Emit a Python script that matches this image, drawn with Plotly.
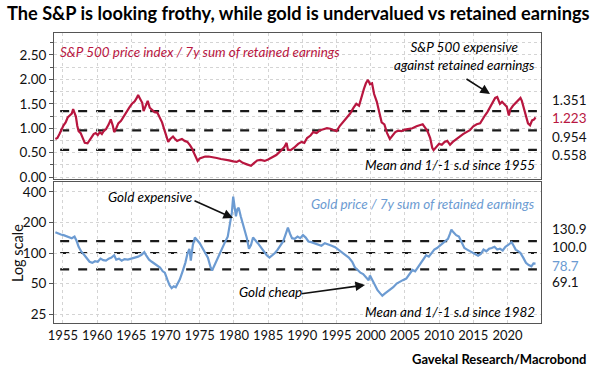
import plotly.graph_objects as go

# ---------------- data ----------------
spx_years = [1953.9, 1954.2, 1954.5, 1954.8, 1955.1, 1955.4, 1955.7, 1956.0, 1956.3, 1956.5, 1956.7, 1956.9,
             1957.1, 1957.3, 1957.6, 1957.9, 1958.2, 1958.6, 1958.9, 1959.2, 1959.5, 1959.8, 1960.1, 1960.4,
             1960.7, 1961.0, 1961.3, 1961.7, 1962.0, 1962.3, 1962.5, 1962.8, 1963.1, 1963.5, 1963.9, 1964.3,
             1964.7, 1965.1, 1965.5, 1965.8, 1966.0, 1966.3, 1966.6, 1966.8, 1967.1, 1967.4, 1967.7, 1968.0,
             1968.4, 1968.8, 1969.1, 1969.5, 1969.8, 1970.1, 1970.4, 1970.7, 1971.1, 1971.4, 1971.7, 1972.0,
             1972.4, 1972.8, 1973.2, 1973.6, 1973.9, 1974.3, 1974.7, 1975.0, 1975.4, 1975.8, 1976.3, 1976.9,
             1977.5, 1978.1, 1978.7, 1979.3, 1979.9, 1980.4, 1980.8, 1981.3, 1981.9, 1982.5, 1982.9, 1983.4,
             1983.9, 1984.5, 1985.0, 1985.6, 1986.2, 1986.8, 1987.4, 1987.7, 1987.9, 1988.3, 1988.8, 1989.4,
             1989.9, 1990.3, 1990.7, 1991.2, 1991.6, 1992.1, 1992.6, 1993.1, 1993.6, 1994.1, 1994.6, 1995.0,
             1995.5, 1996.0, 1996.5, 1997.0, 1997.5, 1997.9, 1998.3, 1998.6, 1999.0, 1999.3, 1999.6, 1999.9,
             2000.2, 2000.5, 2000.9, 2001.3, 2001.6, 2002.0, 2002.4, 2002.8, 2003.2, 2003.6, 2004.0, 2004.5,
             2005.0, 2005.6, 2006.1, 2006.7, 2007.2, 2007.6, 2007.9, 2008.3, 2008.7, 2009.0, 2009.2, 2009.6,
             2010.0, 2010.4, 2010.8, 2011.2, 2011.6, 2012.0, 2012.5, 2013.0, 2013.5, 2014.0, 2014.5, 2015.0,
             2015.5, 2016.0, 2016.3, 2016.7, 2017.1, 2017.5, 2017.9, 2018.2, 2018.5, 2018.9, 2019.2, 2019.6,
             2019.9, 2020.2, 2020.4, 2020.8, 2021.2, 2021.6, 2021.9, 2022.1, 2022.4, 2022.7, 2023.0, 2023.3,
             2023.6, 2023.9, 2024.1]
spx_values = [0.78, 0.80, 0.88, 0.98, 1.06, 1.12, 1.22, 1.26, 1.30, 1.39, 1.30, 1.24,
              1.05, 0.94, 0.90, 0.78, 0.70, 0.69, 0.75, 0.82, 0.88, 0.90, 0.86, 0.92,
              0.88, 0.95, 0.98, 1.08, 1.18, 1.05, 0.92, 1.00, 1.10, 1.15, 1.25, 1.33,
              1.42, 1.50, 1.55, 1.62, 1.68, 1.60, 1.52, 1.35, 1.45, 1.56, 1.42, 1.38,
              1.33, 1.32, 1.22, 1.12, 0.98, 0.85, 0.72, 0.78, 0.83, 0.78, 0.74, 0.76,
              0.78, 0.74, 0.72, 0.65, 0.58, 0.45, 0.33, 0.38, 0.40, 0.42, 0.42, 0.41,
              0.39, 0.37, 0.36, 0.34, 0.32, 0.31, 0.34, 0.29, 0.26, 0.23, 0.28, 0.34,
              0.35, 0.33, 0.36, 0.40, 0.45, 0.53, 0.62, 0.70, 0.56, 0.55, 0.60, 0.68,
              0.72, 0.70, 0.80, 0.85, 0.92, 0.90, 0.96, 0.98, 1.00, 0.99, 0.96, 0.94,
              1.05, 1.14, 1.22, 1.30, 1.42, 1.50, 1.46, 1.62, 1.80, 1.92, 1.99, 1.90,
              1.92, 1.70, 1.54, 1.30, 1.12, 1.08, 0.90, 0.78, 0.86, 0.92, 0.95, 0.94,
              0.97, 0.99, 1.00, 1.04, 1.06, 1.08, 1.02, 0.94, 0.80, 0.60, 0.55, 0.62,
              0.68, 0.66, 0.72, 0.74, 0.66, 0.72, 0.78, 0.82, 0.88, 0.92, 0.96, 1.04,
              1.08, 1.10, 1.18, 1.26, 1.34, 1.44, 1.52, 1.62, 1.64, 1.50, 1.54, 1.48,
              1.44, 1.26, 1.38, 1.46, 1.52, 1.56, 1.62, 1.56, 1.40, 1.22, 1.10, 1.06,
              1.16, 1.18, 1.22]

gold_years = [1953.9, 1954.3, 1954.7, 1955.1, 1955.5, 1955.9, 1956.3, 1956.7, 1957.0, 1957.3, 1957.7, 1958.1,
              1958.5, 1958.9, 1959.3, 1959.7, 1960.1, 1960.5, 1960.9, 1961.3, 1961.7, 1962.1, 1962.5, 1962.8,
              1963.2, 1963.6, 1964.0, 1964.5, 1965.0, 1965.5, 1966.0, 1966.5, 1966.9, 1967.2, 1967.6, 1968.0,
              1968.4, 1968.8, 1969.2, 1969.6, 1969.9, 1970.3, 1970.6, 1970.9, 1971.2, 1971.5, 1971.8, 1972.1,
              1972.5, 1972.9, 1973.2, 1973.5, 1973.7, 1974.0, 1974.3, 1974.6, 1975.0, 1975.4, 1975.8, 1976.2,
              1976.6, 1976.8, 1977.1, 1977.5, 1977.9, 1978.3, 1978.7, 1979.1, 1979.4, 1979.7, 1979.9, 1980.1,
              1980.3, 1980.5, 1980.7, 1981.0, 1981.3, 1981.6, 1981.9, 1982.2, 1982.5, 1982.8, 1983.1, 1983.5,
              1983.9, 1984.3, 1984.8, 1985.2, 1985.6, 1986.0, 1986.4, 1986.8, 1987.2, 1987.6, 1987.9, 1988.2,
              1988.5, 1988.9, 1989.3, 1989.7, 1990.1, 1990.5, 1990.9, 1991.3, 1991.8, 1992.3, 1992.8, 1993.3,
              1993.8, 1994.3, 1994.8, 1995.3, 1995.8, 1996.3, 1996.8, 1997.3, 1997.7, 1998.1, 1998.5, 1998.9,
              1999.3, 1999.7, 1999.9, 2000.2, 2000.6, 2001.0, 2001.4, 2001.7, 2002.1, 2002.5, 2002.9, 2003.3,
              2003.8, 2004.2, 2004.7, 2005.2, 2005.7, 2006.1, 2006.5, 2006.9, 2007.3, 2007.7, 2008.1, 2008.5,
              2008.9, 2009.3, 2009.7, 2010.1, 2010.5, 2010.9, 2011.3, 2011.6, 2011.8, 2012.1, 2012.5, 2012.9,
              2013.3, 2013.7, 2014.1, 2014.5, 2014.9, 2015.3, 2015.7, 2016.1, 2016.5, 2016.9, 2017.3, 2017.7,
              2018.1, 2018.5, 2018.9, 2019.3, 2019.7, 2020.1, 2020.6, 2020.9, 2021.2, 2021.6, 2021.9, 2022.3,
              2022.7, 2023.1, 2023.5, 2023.8, 2024.1]
gold_values = [160, 155, 152, 150, 147, 145, 140, 145, 132, 115, 103, 96,
               88, 82, 80, 83, 82, 88, 85, 84, 88, 90, 95, 86,
               88, 84, 87, 86, 88, 90, 92, 96, 102, 94, 86, 82,
               78, 75, 72, 66, 64, 54, 48, 45, 47, 46, 50, 55,
               66, 80, 98, 110, 84, 120, 142, 135, 125, 112, 100, 90,
               72, 67, 74, 85, 100, 115, 128, 145, 190, 250, 360, 280,
               230, 270, 280, 230, 195, 165, 140, 110, 120, 142, 135, 125,
               115, 105, 95, 90, 95, 100, 108, 120, 130, 155, 178, 155,
               140, 138, 145, 140, 150, 142, 130, 128, 125, 122, 118, 125,
               122, 118, 114, 108, 102, 96, 90, 82, 72, 68, 64, 62,
               58, 54, 60, 55, 48, 43, 40, 38, 40, 42, 44, 46,
               50, 52, 54, 56, 62, 68, 66, 72, 78, 85, 95, 92,
               100, 108, 112, 118, 124, 130, 138, 155, 170, 160, 150, 145,
               128, 112, 108, 104, 100, 96, 94, 98, 108, 104, 110, 112,
               115, 108, 110, 106, 115, 120, 128, 118, 108, 104, 100, 90,
               80, 76, 74, 79, 78.7]

spx_bands = [1.351, 0.954, 0.558]
gold_bands = [130.9, 100.0, 69.1]
spx_right_labels = ["1.351", "1.223", "0.954", "0.558"]
gold_right_labels = ["130.9", "100.0", "78.7", "69.1"]
x_ticks = [1955, 1960, 1965, 1970, 1975, 1980, 1985, 1990, 1995, 2000, 2005, 2010, 2015, 2020]
spx_ticks = [0.0, 0.5, 1.0, 1.5, 2.0, 2.5]
gold_ticks = [25, 50, 100, 200, 400]

# ---------------- style ----------------
RED = "#b8163f"
BLUE = "#6c9bd2"
FONT = "Lato, Roboto, sans-serif"
W, H = 596, 377
L, R, T, B = 54, 55, 33, 54
PW, PH = W - L - R, H - T - B


def px(xp):
    return (xp - L) / PW


def py(yp):
    return (H - B - yp) / PH


fig = go.Figure()
fig.add_trace(go.Scatter(x=spx_years, y=spx_values, mode="lines",
                         line=dict(color=RED, width=2.2), xaxis="x", yaxis="y", showlegend=False))
fig.add_trace(go.Scatter(x=gold_years, y=gold_values, mode="lines",
                         line=dict(color=BLUE, width=2.2), xaxis="x2", yaxis="y2", showlegend=False))

for v in spx_bands:
    fig.add_shape(type="line", xref="x", yref="y", x0=1954.6, x1=2024.3, y0=v, y1=v,
                  line=dict(color="#1a1a1a", width=2.2, dash="dash"), layer="below")
for v in gold_bands:
    fig.add_shape(type="line", xref="x2", yref="y2", x0=1954.6, x1=2024.3, y0=v, y1=v,
                  line=dict(color="#1a1a1a", width=2.2, dash="dash"), layer="below")

xr = [1953.7, 2024.9]
axis_common = dict(showline=True, linecolor="#555555", linewidth=1, mirror=True,
                   showgrid=True, gridcolor="#d4d4d4", griddash="dot", gridwidth=1,
                   zeroline=False)
tf = dict(family=FONT, size=13.5, color="#111")

top_dom = [(H - B - 179) / PH, 1.0]
bot_dom = [0.0, (H - B - 182) / PH]

fig.update_layout(
    width=W, height=H, margin=dict(l=L, r=R, t=T, b=B),
    paper_bgcolor="white", plot_bgcolor="white",
    xaxis=dict(domain=[0, 1], range=xr, anchor="y", tickvals=x_ticks, showticklabels=False,
               ticks="", **axis_common),
    yaxis=dict(domain=top_dom, range=[-0.04, 2.95], anchor="x", tickvals=spx_ticks,
               tickformat=".2f", ticks="outside", ticklen=4, tickcolor="#555", tickfont=tf,
               minor=dict(dtick=0.25, ticks="outside", ticklen=3, tickcolor="#555", showgrid=True,
                          gridcolor="#d4d4d4", griddash="dot"),
               **axis_common),
    xaxis2=dict(domain=[0, 1], range=xr, anchor="y2", tickvals=x_ticks, ticks="",
                tickfont=dict(family=FONT, size=13, color="#111"), **axis_common),
    yaxis2=dict(domain=bot_dom, type="log", range=[1.31, 2.70], anchor="x2", tickvals=gold_ticks,
                ticktext=[str(t) for t in gold_ticks], ticks="outside", ticklen=4, tickcolor="#555",
                tickfont=tf, **axis_common),
)

ann = []
# title
ann.append(dict(text="<b>The S&P is looking frothy, while gold is undervalued vs retained earnings</b>",
                x=px(298), y=py(13), xref="paper", yref="paper", showarrow=False,
                font=dict(family=FONT, size=18.2, color="#000"), xanchor="center", yanchor="middle"))
# source
ann.append(dict(text="<b>Gavekal Research/Macrobond</b>", x=px(589), y=py(359), xref="paper", yref="paper",
                showarrow=False, font=dict(family=FONT, size=13, color="#000"), xanchor="right",
                yanchor="middle"))
# y label
ann.append(dict(text="Log scale", x=px(17), y=py(253), xref="paper", yref="paper", showarrow=False,
                textangle=-90, font=dict(family=FONT, size=14.5, color="#111"), xanchor="center",
                yanchor="middle"))


def txt(s, x, y, color="#000", anchor="left", size=13.5):
    ann.append(dict(text="<i>" + s + "</i>", x=px(x), y=py(y), xref="paper", yref="paper",
                    showarrow=False, font=dict(family=FONT, size=size, color=color),
                    xanchor=anchor, yanchor="middle", align="center"))


def arrow(x0, y0, x1, y1):
    ann.append(dict(text="", x=px(x1), y=py(y1), xref="paper", yref="paper", showarrow=True,
                    ax=x0 - x1, ay=y0 - y1, axref="pixel", ayref="pixel",
                    arrowhead=2, arrowsize=1.2, arrowwidth=1.6, arrowcolor="#111"))


txt("S&P 500 price index / 7y sum of retained earnings", 58, 52, RED)
txt("S&P 500 expensive<br>against retained earnings", 464, 56, anchor="center")
arrow(465, 78, 490, 94)
txt("Mean and 1/-1 s.d since 1955", 537, 165, anchor="right")

txt("Gold expensive", 106, 197)
arrow(193, 200, 233, 218)
txt("Gold price / 7y sum of retained earnings", 537, 204, BLUE, anchor="right")
txt("Gold cheap", 237, 292)
arrow(300, 294, 365, 285)
txt("Mean and 1/-1 s.d since 1982", 537, 312, anchor="right")

for lab, yp, c in zip(spx_right_labels, [100, 118, 137, 155], ["#111", RED, "#111", "#111"]):
    ann.append(dict(text=lab, x=px(550), y=py(yp), xref="paper", yref="paper", showarrow=False,
                    font=dict(family=FONT, size=13.5, color=c), xanchor="left", yanchor="middle"))
for lab, yp, c in zip(gold_right_labels, [229, 247, 266, 282], ["#111", "#111", BLUE, "#111"]):
    ann.append(dict(text=lab, x=px(550), y=py(yp), xref="paper", yref="paper", showarrow=False,
                    font=dict(family=FONT, size=13.5, color=c), xanchor="left", yanchor="middle"))

fig.update_layout(annotations=ann)
fig.write_html("out.html", config={"displayModeBar": False})

# remove the default page margin so the 596x377 figure fits the window exactly
with open("out.html", "r", encoding="utf-8") as f:
    html = f.read()
html = html.replace("<head>", "<head><style>html,body{margin:0;padding:0;overflow:hidden;}</style>", 1)
with open("out.html", "w", encoding="utf-8") as f:
    f.write(html)
